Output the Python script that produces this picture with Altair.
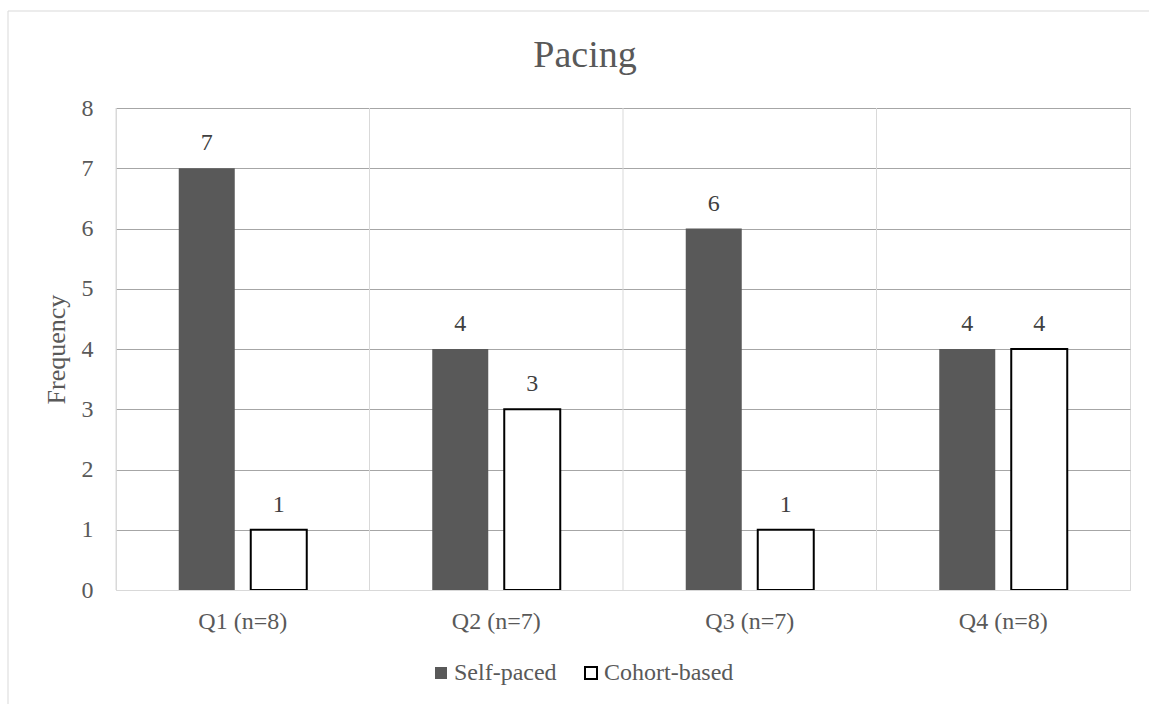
import altair as alt
import pandas as pd

# Survey responses per quarter
categories = ["Q1 (n=8)", "Q2 (n=7)", "Q3 (n=7)", "Q4 (n=8)"]
series = ["Self-paced", "Cohort-based"]
self_paced = [7, 4, 6, 4]
cohort_based = [1, 3, 1, 4]
y_ticks = [0, 1, 2, 3, 4, 5, 6, 7, 8]

rows = []
for q, s, c in zip(categories, self_paced, cohort_based):
    rows.append({"quarter": q, "series": "Self-paced", "freq": s})
    rows.append({"quarter": q, "series": "Cohort-based", "freq": c})
df = pd.DataFrame(rows)
bounds = pd.DataFrame({"quarter": categories})

W, H = 1014, 482
FONT = "Liberation Serif"
TXT = "#595959"

x_scale = alt.Scale(domain=categories, paddingInner=0, paddingOuter=0)
offset_scale = alt.Scale(domain=series, paddingInner=0.2222, paddingOuter=0.8715)

x_axis = alt.Axis(
    ticks=False,
    tickSize=0,
    grid=False,
    domainColor="#d9d9d9",
    domainWidth=1,
    labelPadding=19,
    labelFontSize=24,
    labelColor=TXT,
    labelAngle=0,
    zindex=1,
)

y_axis = alt.Axis(
    values=y_ticks,
    format="d",
    domain=False,
    ticks=False,
    tickSize=0,
    labelPadding=23,
    labelFontSize=24,
    labelColor=TXT,
    title="Frequency",
    titleFontSize=26,
    titleFontWeight="normal",
    titleColor=TXT,
    titlePadding=12,
    gridColor={
        "condition": {"test": "datum.value === 0", "value": "#d9d9d9"},
        "value": "#a6a6a6",
    },
    gridWidth=1,
)

legend = alt.Legend(
    title=None,
    orient="none",
    legendX=313,
    legendY=553,
    direction="horizontal",
    symbolType="square",
    symbolSize=144,
    symbolStrokeWidth=2,
    labelFontSize=24,
    labelColor=TXT,
    labelOffset=1,
    columnPadding=22,
    padding=0,
)

# separators between quarter groups
separators = alt.Chart(bounds).mark_rule(color="#d9d9d9", strokeWidth=1).encode(
    x=alt.X("quarter:N", sort=categories, scale=x_scale, bandPosition=0,
            title=None, axis=x_axis),
    y=alt.value(0),
    y2=alt.value(H),
)

bars = alt.Chart(df).mark_bar(strokeWidth=2).encode(
    x=alt.X("quarter:N", sort=categories, scale=x_scale, title=None, axis=x_axis),
    xOffset=alt.XOffset("series:N", sort=series, scale=offset_scale),
    y=alt.Y("freq:Q", scale=alt.Scale(domain=[0, 8], nice=False), axis=y_axis),
    fill=alt.Fill(
        "series:N",
        sort=series,
        scale=alt.Scale(domain=series, range=["#595959", "#ffffff"]),
        legend=legend,
    ),
    stroke=alt.Stroke(
        "series:N",
        sort=series,
        scale=alt.Scale(domain=series, range=["transparent", "#000000"]),
        legend=legend,
    ),
)

labels = alt.Chart(df).mark_text(
    baseline="alphabetic", dy=-18, fontSize=24, color="#404040", font=FONT
).encode(
    x=alt.X("quarter:N", sort=categories, scale=x_scale, title=None, axis=x_axis),
    xOffset=alt.XOffset("series:N", sort=series, scale=offset_scale),
    y=alt.Y("freq:Q", axis=y_axis),
    text=alt.Text("freq:Q"),
)

frame = alt.Chart(alt.Data(values=[{}])).mark_rect(
    fill="transparent", stroke="#d9d9d9", strokeWidth=1
).encode(
    x=alt.value(-108),
    y=alt.value(-97),
    x2=alt.value(W + 60),
    y2=alt.value(H + 150),
)

chart = (
    alt.layer(frame, separators, bars, labels)
    .properties(
        width=W,
        height=H,
        autosize=alt.AutoSizeParams(type="none"),
        padding={"left": 116, "top": 108, "right": 19, "bottom": 114},
        title=alt.TitleParams(
            "Pacing",
            fontSize=38,
            font=FONT,
            color=TXT,
            fontWeight="normal",
            anchor="middle",
            baseline="alphabetic",
            frame="group",
            dx=-38,
            dy=94,
            offset=0,
        ),
    )
    .configure(font=FONT, background="white")
    .configure_view(stroke="#d9d9d9", strokeWidth=1)
    .configure_axis(labelFont=FONT, titleFont=FONT)
    .configure_legend(labelFont=FONT)
)

chart.save("out.html", embed_options={"renderer": "svg", "actions": False})
